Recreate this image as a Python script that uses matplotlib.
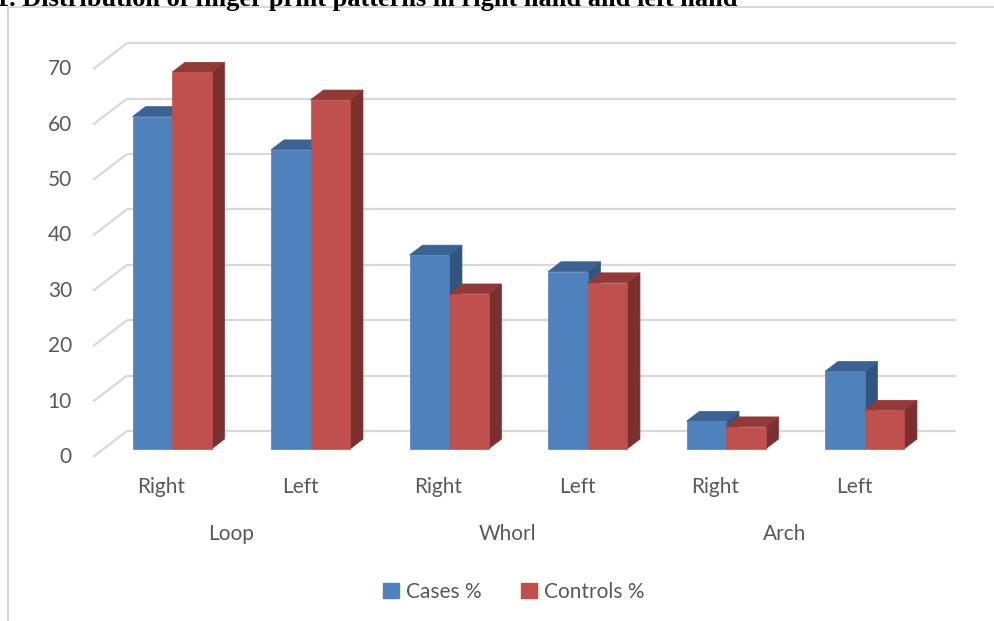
import matplotlib
matplotlib.use("Agg")
import matplotlib.pyplot as plt
from matplotlib.patches import Polygon, Patch
from matplotlib.lines import Line2D

# Data
hands = ["Right", "Left", "Right", "Left", "Right", "Left"]
patterns = ["Loop", "Whorl", "Arch"]
cases = [60, 54, 35, 32, 5, 14]
controls = [68, 63, 28, 30, 4, 7]
yticks = [0, 10, 20, 30, 40, 50, 60, 70]

W_PX, H_PX = 995, 621
PX_X = 138.5   # pixels per category
PX_Y = 5.54    # pixels per value unit
ORG_X, ORG_Y = 161.5, 457  # pixel position of (0, 0) on the front plane

# depth of the 3D box in data units
DX = 34 / PX_X
DY = 26 / PX_Y
BAR_T0, BAR_T1 = 0.31, 0.69   # bar depth range as fraction of box depth
BAR_W = 39.5 / PX_X
WALL_L = (93 - ORG_X) / PX_X
WALL_R = (922 - ORG_X) / PX_X

GRID = "#D9D9D9"
TXT = "#595959"
BLUE = ("#4F81BD", "#3C6291", "#32557F")   # front, top, side
RED = ("#C0504D", "#923A38", "#7B302F")

fig = plt.figure(figsize=(W_PX / 100, H_PX / 100), dpi=100)
ax = fig.add_axes([0, 0, 1, 1])
ax.set_xlim(-ORG_X / PX_X, (W_PX - ORG_X) / PX_X)
ax.set_ylim((ORG_Y - H_PX) / PX_Y, ORG_Y / PX_Y)
ax.axis("off")

# chart area border (top and left edges)
fig.add_artist(Line2D([8 / W_PX, 8 / W_PX], [0, 1 - 7 / H_PX], color=GRID, lw=1.5))
fig.add_artist(Line2D([8 / W_PX, 1], [1 - 7 / H_PX, 1 - 7 / H_PX], color=GRID, lw=1.5))

# title, partly running off the top of the image
fig.text(738 / W_PX, 1 - 6 / H_PX,
         "Figure 1. Distribution of finger print patterns in right hand and left hand",
         ha="right", va="baseline", fontsize=19, fontweight="bold",
         family="Liberation Serif", color="black")

# gridlines: side wall diagonals and back wall
for v in yticks:
    ax.plot([WALL_L, WALL_L + DX], [v, v + DY], color=GRID, lw=1.6, zorder=1,
            solid_capstyle="butt")
    ax.plot([WALL_L + DX, WALL_R + DX], [v + DY, v + DY], color=GRID, lw=1.6,
            zorder=1, solid_capstyle="butt")
    ax.text(WALL_L - 21 / PX_X, v, str(v), ha="right", va="center",
            fontsize=15, family="Lato", color=TXT)


def draw_bar(left, val, cols):
    front, top, side = cols
    d = BAR_T1 - BAR_T0
    x0 = left + BAR_T0 * DX
    x1 = x0 + BAR_W
    y0 = BAR_T0 * DY
    y1 = val + BAR_T0 * DY
    ox, oy = d * DX, d * DY
    ax.add_patch(Polygon([(x1, y0), (x1, y1), (x1 + ox, y1 + oy), (x1 + ox, y0 + oy)],
                         closed=True, facecolor=side, edgecolor=side, lw=0.5, zorder=2))
    ax.add_patch(Polygon([(x0, y1), (x1, y1), (x1 + ox, y1 + oy), (x0 + ox, y1 + oy)],
                         closed=True, facecolor=top, edgecolor=top, lw=0.5, zorder=2))
    ax.add_patch(Polygon([(x0, y0), (x1, y0), (x1, y1), (x0, y1)],
                         closed=True, facecolor=front, edgecolor=front, lw=0.5, zorder=2))


for i, (c, k) in enumerate(zip(cases, controls)):
    draw_bar(i - BAR_W, c, BLUE)
    draw_bar(i, k, RED)
    ax.text(i, -5.4, hands[i], ha="center", va="center", fontsize=15,
            family="Lato", color=TXT)

for g, name in enumerate(patterns):
    ax.text(2 * g + 0.5, -13.9, name, ha="center", va="center", fontsize=15,
            family="Lato", color=TXT)

handles = [Patch(facecolor=BLUE[0], edgecolor=BLUE[0], label="Cases %"),
           Patch(facecolor=RED[0], edgecolor=RED[0], label="Controls %")]
leg = fig.legend(handles=handles, loc="center", ncol=2, frameon=False,
                 bbox_to_anchor=(514 / W_PX, 1 - 592 / H_PX),
                 handlelength=0.75, handleheight=0.75, handletextpad=0.35,
                 columnspacing=1.9, prop={"family": "Lato", "size": 15})
for t in leg.get_texts():
    t.set_color(TXT)

fig.savefig("out.png", dpi=100)
